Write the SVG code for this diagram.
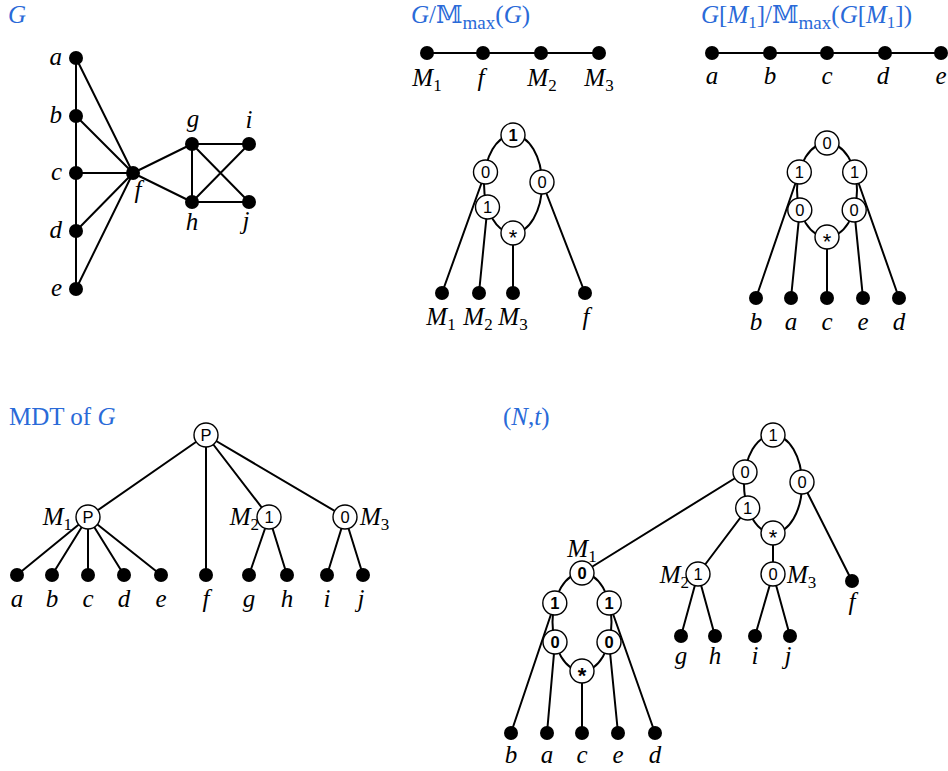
<svg xmlns="http://www.w3.org/2000/svg" width="948" height="771" viewBox="0 0 948 771">
<style>
.e{stroke:#000;stroke-width:2;fill:none}
.d{fill:#000}
.c{fill:#fff;stroke:#000;stroke-width:1.4}
.n{font-family:"Liberation Sans",Arial,sans-serif;font-size:16.5px;text-anchor:middle;fill:#000}
.b{font-weight:bold}
.s{font-family:"Liberation Sans",Arial,sans-serif;font-size:22px;text-anchor:middle;fill:#000}
.l{font-family:"Liberation Serif","Times New Roman",serif;font-style:italic;font-size:25px;fill:#000}
.m{text-anchor:middle}
.r{text-anchor:end}
.u{font-style:normal;font-size:17px}
.t{font-family:"Liberation Serif","Times New Roman",serif;font-size:25px;fill:#2a6ad8}
.i{font-style:italic}
.sb{font-size:19px}
.ds{font-family:"DejaVu Serif","DejaVu Sans",serif;font-size:24px}
</style>
<g id="titles">
<text class="t" x="8" y="23"><tspan class="i">G</tspan></text>
<text class="t" x="411" y="23"><tspan class="i">G</tspan>/<tspan class="ds">𝕄</tspan><tspan class="sb" dy="6">max</tspan><tspan dy="-6">(</tspan><tspan class="i">G</tspan>)</text>
<text class="t" x="701" y="23"><tspan class="i">G</tspan>[<tspan class="i">M</tspan><tspan class="u" dy="5">1</tspan><tspan dy="-5">]/</tspan><tspan class="ds">𝕄</tspan><tspan class="sb" dy="6">max</tspan><tspan dy="-6">(</tspan><tspan class="i">G</tspan>[<tspan class="i">M</tspan><tspan class="u" dy="5">1</tspan><tspan dy="-5">])</tspan></text>
<text class="t" x="9" y="425">MDT of <tspan class="i">G</tspan></text>
<text class="t" x="503" y="425">(<tspan class="i">N</tspan>,<tspan class="i">t</tspan>)</text>
</g>
<g id="connectors">
<path class="e" d="M76 58V289M76 58L133 173M76 116L133 173M76 173H133M76 231L133 173M76 289L133 173M133 173L192 144M133 173L192 202M192 144V202M192 144H249M192 144L249 202M192 202H249M192 202L249 144"/>
<path class="e" d="M427 53H599"/>
<path class="e" d="M712 53H941"/>
<ellipse class="e" cx="513" cy="184" rx="29" ry="49"/>
<path class="e" d="M485.5 172L442 293M487.5 207L479 293M513 233V293M542 182L585 293"/>
<ellipse class="e" cx="827" cy="190" rx="30" ry="47"/>
<path class="e" d="M799.3 172L756 298M799.8 210L791 298M827 237V298M854.2 210L863 298M854.7 172L899 298"/>
<path class="e" d="M206 435L88 517M206 435V575M206 435L269 517M206 435L345 517M88 517L17 575M88 517L52 575M88 517V575M88 517L124 575M88 517L161 575M269 517L249 575M269 517L287 575M345 517L327 575M345 517L363 575"/>
<ellipse class="e" cx="773" cy="484" rx="29" ry="49"/>
<ellipse class="e" cx="582" cy="622" rx="29.5" ry="49"/>
<path class="e" d="M745 472L582 573M747.7 508L698 574M773 533V574M802 482L852 581M698 574L681 636M698 574L715 636M773 574L755 636M773 574L790 636M554.8 603L511 733M555 642L547 733M582 671V733M609 642L618 733M609.2 603L655 733"/>
</g>
<g id="graph-G">
<g id="G-a"><circle class="d" cx="76" cy="58" r="7"/><text class="l r" x="62" y="65">a</text></g>
<g id="G-b"><circle class="d" cx="76" cy="116" r="7"/><text class="l r" x="62" y="123">b</text></g>
<g id="G-c"><circle class="d" cx="76" cy="173" r="7"/><text class="l r" x="62" y="180">c</text></g>
<g id="G-d"><circle class="d" cx="76" cy="231" r="7"/><text class="l r" x="62" y="238">d</text></g>
<g id="G-e"><circle class="d" cx="76" cy="289" r="7"/><text class="l r" x="62" y="296">e</text></g>
<g id="G-f"><circle class="d" cx="133" cy="173" r="7"/><text class="l m" x="138" y="198">f</text></g>
<g id="G-g"><circle class="d" cx="192" cy="144" r="7"/><text class="l m" x="193" y="127">g</text></g>
<g id="G-h"><circle class="d" cx="192" cy="202" r="7"/><text class="l m" x="192" y="230">h</text></g>
<g id="G-i"><circle class="d" cx="249" cy="144" r="7"/><text class="l m" x="249" y="128">i</text></g>
<g id="G-j"><circle class="d" cx="249" cy="202" r="7"/><text class="l m" x="246" y="229">j</text></g>
</g>
<g id="quotient-G">
<g id="Q-M1"><circle class="d" cx="427" cy="53" r="7"/><text class="l m" x="427" y="86">M<tspan class="u" dy="5">1</tspan></text></g>
<g id="Q-f"><circle class="d" cx="483" cy="53" r="7"/><text class="l m" x="481" y="86">f</text></g>
<g id="Q-M2"><circle class="d" cx="541" cy="53" r="7"/><text class="l m" x="542" y="86">M<tspan class="u" dy="5">2</tspan></text></g>
<g id="Q-M3"><circle class="d" cx="599" cy="53" r="7"/><text class="l m" x="599" y="86">M<tspan class="u" dy="5">3</tspan></text></g>
</g>
<g id="quotient-GM1">
<g id="R-a"><circle class="d" cx="712" cy="53" r="7"/><text class="l m" x="712" y="84">a</text></g>
<g id="R-b"><circle class="d" cx="770" cy="53" r="7"/><text class="l m" x="770" y="84">b</text></g>
<g id="R-c"><circle class="d" cx="827" cy="53" r="7"/><text class="l m" x="827" y="84">c</text></g>
<g id="R-d"><circle class="d" cx="885" cy="53" r="7"/><text class="l m" x="883" y="84">d</text></g>
<g id="R-e"><circle class="d" cx="941" cy="53" r="7"/><text class="l m" x="941" y="84">e</text></g>
</g>
<g id="tree-top-middle">
<g id="T1-root"><circle class="c" cx="513" cy="135" r="12"/><text class="n b" x="513" y="141">1</text></g>
<g id="T1-l0"><circle class="c" cx="485.5" cy="172" r="12"/><text class="n" x="485.5" y="178">0</text></g>
<g id="T1-l1"><circle class="c" cx="487.5" cy="207" r="12"/><text class="n" x="487.5" y="213">1</text></g>
<g id="T1-star"><circle class="c" cx="513" cy="233" r="12"/><text class="s" x="513" y="245">*</text></g>
<g id="T1-r0"><circle class="c" cx="542" cy="182" r="12"/><text class="n" x="542" y="188">0</text></g>
<g id="T1-M1"><circle class="d" cx="442" cy="293" r="7"/><text class="l m" x="441" y="325">M<tspan class="u" dy="5">1</tspan></text></g>
<g id="T1-M2"><circle class="d" cx="479" cy="293" r="7"/><text class="l m" x="478" y="325">M<tspan class="u" dy="5">2</tspan></text></g>
<g id="T1-M3"><circle class="d" cx="513" cy="293" r="7"/><text class="l m" x="513" y="325">M<tspan class="u" dy="5">3</tspan></text></g>
<g id="T1-f"><circle class="d" cx="585" cy="293" r="7"/><text class="l m" x="586" y="325">f</text></g>
</g>
<g id="tree-top-right">
<g id="T2-root"><circle class="c" cx="827" cy="143" r="12"/><text class="n" x="827" y="149">0</text></g>
<g id="T2-l1"><circle class="c" cx="799.3" cy="172" r="12"/><text class="n" x="799.3" y="178">1</text></g>
<g id="T2-r1"><circle class="c" cx="854.7" cy="172" r="12"/><text class="n" x="854.7" y="178">1</text></g>
<g id="T2-l0"><circle class="c" cx="799.8" cy="210" r="12"/><text class="n" x="799.8" y="216">0</text></g>
<g id="T2-r0"><circle class="c" cx="854.2" cy="210" r="12"/><text class="n" x="854.2" y="216">0</text></g>
<g id="T2-star"><circle class="c" cx="827" cy="237" r="12"/><text class="s" x="827" y="249">*</text></g>
<g id="T2-b"><circle class="d" cx="756" cy="298" r="7"/><text class="l m" x="756" y="330">b</text></g>
<g id="T2-a"><circle class="d" cx="791" cy="298" r="7"/><text class="l m" x="791" y="330">a</text></g>
<g id="T2-c"><circle class="d" cx="827" cy="298" r="7"/><text class="l m" x="827" y="330">c</text></g>
<g id="T2-e"><circle class="d" cx="863" cy="298" r="7"/><text class="l m" x="863" y="330">e</text></g>
<g id="T2-d"><circle class="d" cx="899" cy="298" r="7"/><text class="l m" x="899" y="330">d</text></g>
</g>
<g id="mdt">
<g id="MDT-root"><circle class="c" cx="206" cy="435" r="12"/><text class="n" x="206" y="441">P</text></g>
<g id="MDT-M1"><circle class="c" cx="88" cy="517" r="12"/><text class="n" x="88" y="523">P</text><text class="l r" x="72" y="525">M<tspan class="u" dy="5">1</tspan></text></g>
<g id="MDT-M2"><circle class="c" cx="269" cy="517" r="12"/><text class="n" x="269" y="523">1</text><text class="l r" x="259" y="525">M<tspan class="u" dy="5">2</tspan></text></g>
<g id="MDT-M3"><circle class="c" cx="345" cy="517" r="12"/><text class="n" x="345" y="523">0</text><text class="l" x="360" y="525">M<tspan class="u" dy="5">3</tspan></text></g>
<g id="MDT-a"><circle class="d" cx="17" cy="575" r="7"/><text class="l m" x="17" y="607">a</text></g>
<g id="MDT-b"><circle class="d" cx="52" cy="575" r="7"/><text class="l m" x="52" y="607">b</text></g>
<g id="MDT-c"><circle class="d" cx="88" cy="575" r="7"/><text class="l m" x="88" y="607">c</text></g>
<g id="MDT-d"><circle class="d" cx="124" cy="575" r="7"/><text class="l m" x="124" y="607">d</text></g>
<g id="MDT-e"><circle class="d" cx="161" cy="575" r="7"/><text class="l m" x="161" y="607">e</text></g>
<g id="MDT-f"><circle class="d" cx="206" cy="575" r="7"/><text class="l m" x="206" y="607">f</text></g>
<g id="MDT-g"><circle class="d" cx="249" cy="575" r="7"/><text class="l m" x="249" y="607">g</text></g>
<g id="MDT-h"><circle class="d" cx="287" cy="575" r="7"/><text class="l m" x="287" y="607">h</text></g>
<g id="MDT-i"><circle class="d" cx="327" cy="575" r="7"/><text class="l m" x="327" y="607">i</text></g>
<g id="MDT-j"><circle class="d" cx="363" cy="575" r="7"/><text class="l m" x="361" y="607">j</text></g>
</g>
<g id="tree-Nt">
<g id="N-root"><circle class="c" cx="773" cy="435" r="12"/><text class="n" x="773" y="441">1</text></g>
<g id="N-l0"><circle class="c" cx="745" cy="472" r="12"/><text class="n" x="745" y="478">0</text></g>
<g id="N-l1"><circle class="c" cx="747.7" cy="508" r="12"/><text class="n" x="747.7" y="514">1</text></g>
<g id="N-star"><circle class="c" cx="773" cy="533" r="12"/><text class="s" x="773" y="545">*</text></g>
<g id="N-r0"><circle class="c" cx="802" cy="482" r="12"/><text class="n" x="802" y="488">0</text></g>
<g id="N-M2"><circle class="c" cx="698" cy="574" r="12"/><text class="n" x="698" y="580">1</text><text class="l r" x="689" y="583">M<tspan class="u" dy="5">2</tspan></text></g>
<g id="N-M3"><circle class="c" cx="773" cy="574" r="12"/><text class="n" x="773" y="580">0</text><text class="l" x="787" y="583">M<tspan class="u" dy="5">3</tspan></text></g>
<g id="N-f"><circle class="d" cx="852" cy="581" r="7"/><text class="l m" x="852" y="610">f</text></g>
<g id="N-g"><circle class="d" cx="681" cy="636" r="7"/><text class="l m" x="681" y="664">g</text></g>
<g id="N-h"><circle class="d" cx="715" cy="636" r="7"/><text class="l m" x="715" y="664">h</text></g>
<g id="N-i"><circle class="d" cx="755" cy="636" r="7"/><text class="l m" x="755" y="664">i</text></g>
<g id="N-j"><circle class="d" cx="790" cy="636" r="7"/><text class="l m" x="788" y="664">j</text></g>
<g id="N-M1"><circle class="c" cx="582" cy="573" r="12"/><text class="n b" x="582" y="579">0</text><text class="l m" x="582" y="557">M<tspan class="u" dy="5">1</tspan></text></g>
<g id="N-M1-l1"><circle class="c" cx="554.8" cy="603" r="12"/><text class="n b" x="554.8" y="609">1</text></g>
<g id="N-M1-r1"><circle class="c" cx="609.2" cy="603" r="12"/><text class="n b" x="609.2" y="609">1</text></g>
<g id="N-M1-l0"><circle class="c" cx="555" cy="642" r="12"/><text class="n b" x="555" y="648">0</text></g>
<g id="N-M1-r0"><circle class="c" cx="609" cy="642" r="12"/><text class="n b" x="609" y="648">0</text></g>
<g id="N-M1-star"><circle class="c" cx="582" cy="671" r="12"/><text class="s b" x="582" y="683">*</text></g>
<g id="N-b"><circle class="d" cx="511" cy="733" r="7"/><text class="l m" x="511" y="763">b</text></g>
<g id="N-a"><circle class="d" cx="547" cy="733" r="7"/><text class="l m" x="547" y="763">a</text></g>
<g id="N-c"><circle class="d" cx="582" cy="733" r="7"/><text class="l m" x="582" y="763">c</text></g>
<g id="N-e"><circle class="d" cx="618" cy="733" r="7"/><text class="l m" x="618" y="763">e</text></g>
<g id="N-d"><circle class="d" cx="655" cy="733" r="7"/><text class="l m" x="655" y="763">d</text></g>
</g>
</svg>
